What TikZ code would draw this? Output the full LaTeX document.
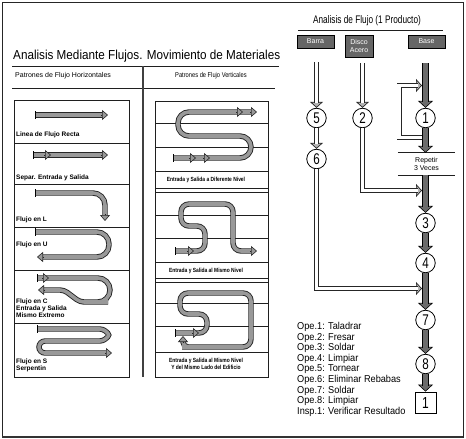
\documentclass[tikz,border=0pt]{standalone}
\usepackage{fontspec}
\setmainfont{Liberation Sans}
\newfontfamily\fA[FakeStretch=0.9]{Liberation Sans}
\newfontfamily\fB[FakeStretch=0.75]{Liberation Sans}
\newfontfamily\fC[FakeStretch=0.82]{Liberation Sans}
\newfontfamily\fD[FakeStretch=0.92]{Liberation Sans}
\usetikzlibrary{arrows.meta}
\definecolor{pipegray}{gray}{0.6}
\definecolor{boxgray}{gray}{0.4}
\definecolor{shaftgray}{gray}{0.42}
\definecolor{linegray}{gray}{0.12}
\tikzset{
 rule/.style={draw=linegray, line width=0.8pt},
 pipe/.style={draw=black!85, line width=0.9pt, double=pipegray, double distance=3.6pt, rounded corners=#1},
 pipe/.default=10pt,
 ptip/.style={draw=black!85, line width=0.6pt, -{Triangle[width=10pt,length=6pt,fill=pipegray,line width=0.6pt]}},
 ptick/.style={draw=black, line width=0.8pt},
 hshaft/.style={draw=black!85, line width=0.9pt, double=white, double distance=3.2pt},
 htip/.style={draw=black!85, line width=0.7pt, -{Triangle[width=13pt,length=6pt,fill=gray!60,line width=0.7pt]}},
 dshaft/.style={draw=black, line width=0.8pt, double=shaftgray, double distance=4.6pt},
 dtip/.style={draw=black, line width=0.6pt, -{Triangle[width=15pt,length=7pt,fill=shaftgray,line width=0.6pt]}},
 op/.style={circle, draw=black, line width=0.8pt, fill=white, minimum size=19.5pt, inner sep=0pt, font=\fB\fontsize{15.5}{16}\selectfont},
 src/.style={draw=black, line width=0.7pt, fill=boxgray, text=white, inner sep=1pt, align=center, font=\fontsize{7}{7.5}\selectfont},
 capt/.style={anchor=west, inner sep=0pt, align=left, font=\bfseries\fontsize{6.5}{7}\selectfont},
 rcapt/.style={inner sep=0pt, align=center, font=\fC\bfseries\fontsize{6}{7.5}\selectfont},
 legtext/.style={anchor=west, inner sep=0pt, text height=7pt, text depth=2pt, font=\fD\fontsize{10}{11}\selectfont},
}
\newcommand\harr[2][]{\draw[htip,#1] #2; \draw[hshaft,#1,shorten >=4.5pt] #2;}
\newcommand\darr[2][]{\draw[dtip,#1] #2; \draw[dshaft,#1,shorten >=6pt] #2;}
\begin{document}
\begin{tikzpicture}[x=1pt,y=-1pt]
\useasboundingbox (0,0) rectangle (466,439);
% outer frame
\draw[line width=0.9pt, draw=black!85] (2,2) rectangle (463,437);
\draw[line width=2pt, draw=gray!40!black] (2,436.5) -- (463,436.5);

% ===== left panel =====
\node[anchor=west, inner sep=0pt, font=\fA\fontsize{13}{15}\selectfont] (title) at (13,56) {Analisis Mediante Flujos. Movimiento de Materiales};
\draw[rule] (12,66) -- (279,66);
\node[anchor=west, inner sep=0pt, font=\fontsize{7}{8}\selectfont] (shH) at (15,76) {Patrones de Flujo Horizontales};
\node[anchor=west, inner sep=0pt, font=\fC\fontsize{7}{8}\selectfont] (shV) at (175,76) {Patrones de Flujo Verticales};
\draw[rule] (12,88) -- (275,88);
\draw[line width=1.3pt, draw=gray!50!black] (143,66) -- (143,377);

% left table
\draw[rule] (14,100) rectangle (129,377);
\foreach \yy in {143,184,227,270,323} \draw[rule] (14,\yy) -- (129,\yy);
% right table
\draw[rule] (155,101) rectangle (268,377);
\foreach \yy in {123,147,171,188,192,215,238,262,278,282,303,326,352} \draw[rule] (155,\yy) -- (268,\yy);

% row 1
\draw[pipe] (35,115) -- (103,115);
\draw[ptip] (101,115) -- (108,115);
\draw[ptick] (35,111) -- (35,119);
\node[capt] (capA) at (16,135) {Linea de Flujo Recta};
% row 2
\draw[pipe] (33,155) -- (103,155);
\draw[ptip] (44,155) -- (51,155);
\draw[ptip] (101,155) -- (108,155);
\draw[ptick] (33,151) -- (33,159);
\node[capt] (capB) at (16,178) {Separ. Entrada y Salida};
% row 3
\draw[pipe=12pt] (35,193) -- (105,193) -- (105,216);
\draw[ptip] (105,214) -- (105,221);
\draw[ptick] (35,189) -- (35,197);
\node[capt] (capC) at (16,220) {Flujo en L};
% row 4
\draw[pipe=12pt] (35,232) -- (109,232) -- (109,257) -- (43,257);
\draw[ptip] (44,257) -- (37,257);
\draw[ptick] (35,228) -- (35,236);
\node[capt] (capD) at (16,245) {Flujo en U};
% row 5
\draw[pipe=12pt] (37,278) -- (110,278) -- (110,302) -- (96,302) [rounded corners=4pt] -- (80,302) -- (64,290) -- (44,290);
\draw[ptip] (42,278) -- (49,278);
\draw[ptip] (45,290) -- (38,290);
\draw[ptick] (37,274) -- (37,282);
\node[capt, anchor=north west] (capE) at (16,299) {Flujo en C\\Entrada y Salida\\Mismo Extremo};
% row 6
\draw[pipe=3pt] (37,329) -- (103,329) -- (110,335) -- (103,341) -- (50,341) [rounded corners=6pt] -- (39,341) -- (39,353) -- (50,353) -- (106,353);
\draw[ptip] (105,353) -- (112,353);
\draw[ptick] (37,325) -- (37,333);
\node[capt, anchor=north west] (capF) at (16,359) {Flujo en S\\Serpentin};

% right section 1
\draw[pipe=11pt] (173,158) -- (251,158) -- (251,136) -- (178,136) -- (178,112) -- (251,112);
\draw[ptip] (189,158) -- (196,158);
\draw[ptip] (203,158) -- (210,158);
\draw[ptip] (236,112) -- (243,112);
\draw[ptip] (250,112) -- (257,112);
\draw[ptick] (173,154) -- (173,162);
\node[rcapt] (capG) at (206,180) {Entrada y Salida a Diferente Nivel};
% right section 2
\draw[pipe=8pt] (175,251) -- (205,251) -- (205,226) -- (181,226) -- (181,204) -- (233,204) -- (233,251) -- (251,251);
\draw[ptip] (187,251) -- (194,251);
\draw[ptip] (250,251) -- (257,251);
\draw[ptick] (175,247) -- (175,255);
\node[rcapt] (capH) at (206,271) {Entrada y Salida al Mismo Nivel};
% right section 3
\draw[pipe=8pt] (175,333) -- (207,333) -- (207,314) -- (180,314) -- (180,293) -- (251,293) -- (251,347) -- (190,347) [rounded corners=5pt] -- (183,347) -- (183,341);
\draw[ptip] (192,333) -- (199,333);
\draw[ptip] (183,343) -- (183,336);
\draw[ptick] (175,329) -- (175,337);
\node[rcapt] (capI) at (206,364) {Entrada y Salida al Mismo Nivel\\Y del Mismo Lado del Edificio};

% ===== right panel: flow analysis =====
\node[font=\fB\fontsize{11}{13}\selectfont, inner sep=0pt] (rtitle) at (367,21) {Analisis de Flujo (1 Producto)};
\draw[rule] (298,30) -- (443,30);
\node[src, minimum width=37pt, minimum height=13pt] (barra) at (315.5,41.5) {Barra};
\node[src, minimum width=28pt, minimum height=22pt] (disco) at (359,46) {Disco\\Acero};
\node[src, minimum width=37pt, minimum height=13pt] (base) at (426.5,41.5) {Base};

\node[op] (c5) at (316.5,118) {5};
\node[op] (c2) at (362.5,118) {2};
\node[op] (c1) at (425.5,118) {1};
\node[op] (c6) at (316.5,159) {6};
\node[op] (c3) at (425.5,223) {3};
\node[op] (c4) at (425.5,263) {4};
\node[op] (c7) at (425.5,320) {7};
\node[op] (c8) at (425.5,364) {8};
\node[draw=black, line width=0.8pt, fill=white, minimum width=21pt, minimum height=21pt, inner sep=0pt, font=\fB\fontsize{16}{17}\selectfont] (b1) at (425.5,402.5) {1};

\node[minimum width=57pt, minimum height=22pt, inner sep=0pt, align=center, font=\fontsize{7}{8.5}\selectfont] (rep) at (426.5,164) {Repetir\\3 Veces};
\draw[rule] (rep.north west) -- (rep.north east);
\draw[rule] (rep.south west) -- (rep.south east);

\coordinate (j2) at (422,190.5);
\coordinate (j6) at (422,288.5);
\coordinate (lpS) at (422,137.5);
\coordinate (lpE) at (422,85.5);

% hollow connectors
\harr[shorten <=14pt]{(c5 |- barra.south) -- (c5.north)}
\harr[shorten <=6pt]{(c2 |- disco.south) -- (c2.north)}
\harr{(c5.south) -- (c6.north)}
\harr{(c2.south) |- (j2)}
\harr{(c6.south) |- (j6)}
\harr{(lpS) -- ++(-23,0) |- (lpE)}

% dark main-line connectors
\darr[shorten <=15pt]{(c1 |- base.south) -- (c1.north)}
\darr{(c1.south) -- (c1 |- rep.north)}
\darr{(c3 |- rep.south) -- (c3.north)}
\darr{(c3.south) -- (c4.north)}
\darr{(c4.south) -- (c7.north)}
\darr{(c7.south) -- (c8.north)}
\darr{(c8.south) -- (b1.north)}

% legend
\foreach \t [count=\i] in {Ope.1: Taladrar, Ope.2: Fresar, Ope.3: Soldar, Ope.4: Limpiar, Ope.5: Tornear, Ope.6: Eliminar Rebabas, Ope.7: Soldar, Ope.8: Limpiar, Insp.1: Verificar Resultado}
  \node[legtext] (leg\i) at (297,{327+10.6*(\i-1)}) {\t};
\end{tikzpicture}
\end{document}
